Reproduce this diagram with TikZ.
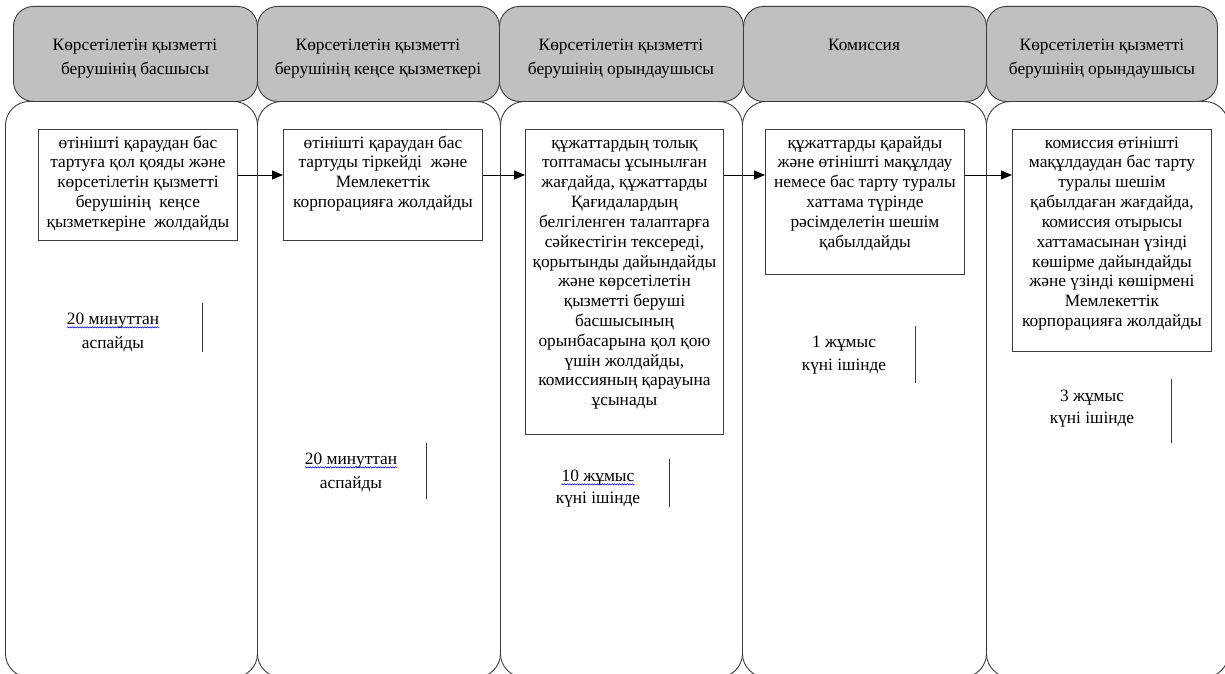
\documentclass[tikz,border=0pt]{standalone}
\usepackage{fontspec}
\setmainfont{Liberation Serif}
\usetikzlibrary{arrows.meta,calc,decorations.pathmorphing}
\definecolor{hdr}{RGB}{192,192,192}
\definecolor{ln}{RGB}{60,60,60}
\begin{document}
\begin{tikzpicture}[x=1bp,y=-1bp,
  hdrbox/.style={draw=ln, fill=hdr, rounded corners=20bp, line width=0.9bp, inner sep=0, anchor=north west},
  bodybox/.style={draw=ln, fill=white, rounded corners=24bp, line width=0.9bp, inner sep=0, anchor=north west},
  stepbox/.style={draw=ln, line width=0.9bp, inner sep=0, anchor=north west},
  txt/.style={align=center, font=\fontsize{17.4}{19.9}\selectfont, inner sep=0, anchor=north},
  htxt/.style={align=center, font=\fontsize{17.4}{24}\selectfont, inner sep=0, anchor=north},
  tlab/.style={font=\fontsize{17.4}{20}\selectfont, inner sep=0},
  arr/.style={draw=black, line width=0.9bp, -{Triangle[length=11bp,width=9bp]}},
  bar/.style={draw=ln, line width=0.9bp},
  wavy/.style={draw=blue!80!black, line width=0.5bp, decorate, decoration={snake, amplitude=0.7bp, segment length=2.5bp}}
]
\useasboundingbox (0,0) rectangle (1225,674);
\clip (0,0) rectangle (1225,674);
% bodies
\node[bodybox, minimum width=252bp, minimum height=576bp] (bd1) at (5,101) {};
\node[bodybox, minimum width=243bp, minimum height=576bp] (bd2) at (257,101) {};
\node[bodybox, minimum width=242bp, minimum height=576bp] (bd3) at (500,101) {};
\node[bodybox, minimum width=244bp, minimum height=576bp] (bd4) at (742,101) {};
\node[bodybox, minimum width=242bp, minimum height=576bp] (bd5) at (986,101) {};
% headers
\node[hdrbox, minimum width=244bp, minimum height=95bp] (h1) at (13,6) {};
\node[hdrbox, minimum width=242bp, minimum height=95bp] (h2) at (257,6) {};
\node[hdrbox, minimum width=244bp, minimum height=95bp] (h3) at (499,6) {};
\node[hdrbox, minimum width=243bp, minimum height=95bp] (h4) at (743,6) {};
\node[hdrbox, minimum width=231bp, minimum height=95bp] (h5) at (986,6) {};
\node[htxt] (h1t) at (135,34) {\strut Көрсетілетін қызметті\\берушінің басшысы};
\node[htxt] (h2t) at (378,34) {\strut Көрсетілетін қызметті\\берушінің кеңсе қызметкері};
\node[htxt] (h3t) at (621,34) {\strut Көрсетілетін қызметті\\берушінің орындаушысы};
\node[htxt] (h4t) at (864,34) {\strut Комиссия};
\node[htxt] (h5t) at (1102,34) {\strut Көрсетілетін қызметті\\берушінің орындаушысы};
% step boxes
\node[stepbox, minimum width=199bp, minimum height=111bp] (b1) at (38,129) {};
\node[stepbox, minimum width=199bp, minimum height=111bp] (b2) at (283,129) {};
\node[stepbox, minimum width=198bp, minimum height=305bp] (b3) at (525,129) {};
\node[stepbox, minimum width=199bp, minimum height=145bp] (b4) at (765,129) {};
\node[stepbox, minimum width=199bp, minimum height=222bp] (b5) at (1012,129) {};
\node[txt] (b1t) at ($(b1.north)+(0,5)$) {\strut өтінішті қараудан бас\\тартуға қол қояды және\\көрсетілетін қызметті\\берушінің\ \ кеңсе\\қызметкеріне\ \ жолдайды};
\node[txt] (b2t) at ($(b2.north)+(0,5)$) {\strut өтінішті қараудан бас\\тартуды тіркейді\ \ және\\Мемлекеттік\\корпорацияға жолдайды};
\node[txt] (b3t) at ($(b3.north)+(0,5)$) {\strut құжаттардың толық\\топтамасы ұсынылған\\жағдайда, құжаттарды\\Қағидалардың\\белгіленген талаптарға\\сәйкестігін тексереді,\\қорытынды дайындайды\\және көрсетілетін\\қызметті беруші\\басшысының\\орынбасарына қол қою\\үшін жолдайды,\\комиссияның қарауына\\ұсынады};
\node[txt] (b4t) at ($(b4.north)+(0,5)$) {\strut құжаттарды қарайды\\және өтінішті мақұлдау\\немесе бас тарту туралы\\хаттама түрінде\\рәсімделетін шешім\\қабылдайды};
\node[txt] (b5t) at ($(b5.north)+(0,5)$) {\strut комиссия өтінішті\\мақұлдаудан бас тарту\\туралы шешім\\қабылдаған жағдайда,\\комиссия отырысы\\хаттамасынан үзінді\\көшірме дайындайды\\және үзінді көшірмені\\Мемлекеттік\\корпорацияға жолдайды};
% arrows
\draw[arr] ($(b1.north east)+(0,46)$) -- ($(b2.north west)+(0,46)$);
\draw[arr] ($(b2.north east)+(0,46)$) -- ($(b3.north west)+(0,46)$);
\draw[arr] ($(b3.north east)+(0,46)$) -- ($(b4.north west)+(0,46)$);
\draw[arr] ($(b4.north east)+(0,46)$) -- ($(b5.north west)+(0,46)$);
% timing labels
\node[tlab] (t1a) at (113,321) {20 минуттан};
\node[tlab] (t1b) at (113,344) {аспайды};
\draw[wavy] ($(t1a.base west)+(0,2.5)$) -- ($(t1a.base east)+(0,2.5)$);
\coordinate (v1a) at (202,303); \coordinate (v1b) at (202,352);
\draw[bar] (v1a) -- (v1b);
\node[tlab] (t2a) at (351,461) {20 минуттан};
\node[tlab] (t2b) at (351,484) {аспайды};
\draw[wavy] ($(t2a.base west)+(0,2.5)$) -- ($(t2a.base east)+(0,2.5)$);
\coordinate (v2a) at (426,443); \coordinate (v2b) at (426,499);
\draw[bar] (v2a) -- (v2b);
\node[tlab] (t3a) at (598,478) {10 жұмыс};
\node[tlab] (t3b) at (598,500) {күні ішінде};
\draw[wavy] ($(t3a.base west)+(0,2.5)$) -- ($(t3a.base east)+(0,2.5)$);
\coordinate (v3a) at (669,459); \coordinate (v3b) at (669,507);
\draw[bar] (v3a) -- (v3b);
\node[tlab] (t4a) at (844,344) {1 жұмыс};
\node[tlab] (t4b) at (844,367) {күні ішінде};
\coordinate (v4a) at (915,326); \coordinate (v4b) at (915,383);
\draw[bar] (v4a) -- (v4b);
\node[tlab] (t5a) at (1092,398) {3 жұмыс};
\node[tlab] (t5b) at (1092,420) {күні ішінде};
\coordinate (v5a) at (1171,379); \coordinate (v5b) at (1171,443);
\draw[bar] (v5a) -- (v5b);
\end{tikzpicture}
\end{document}
